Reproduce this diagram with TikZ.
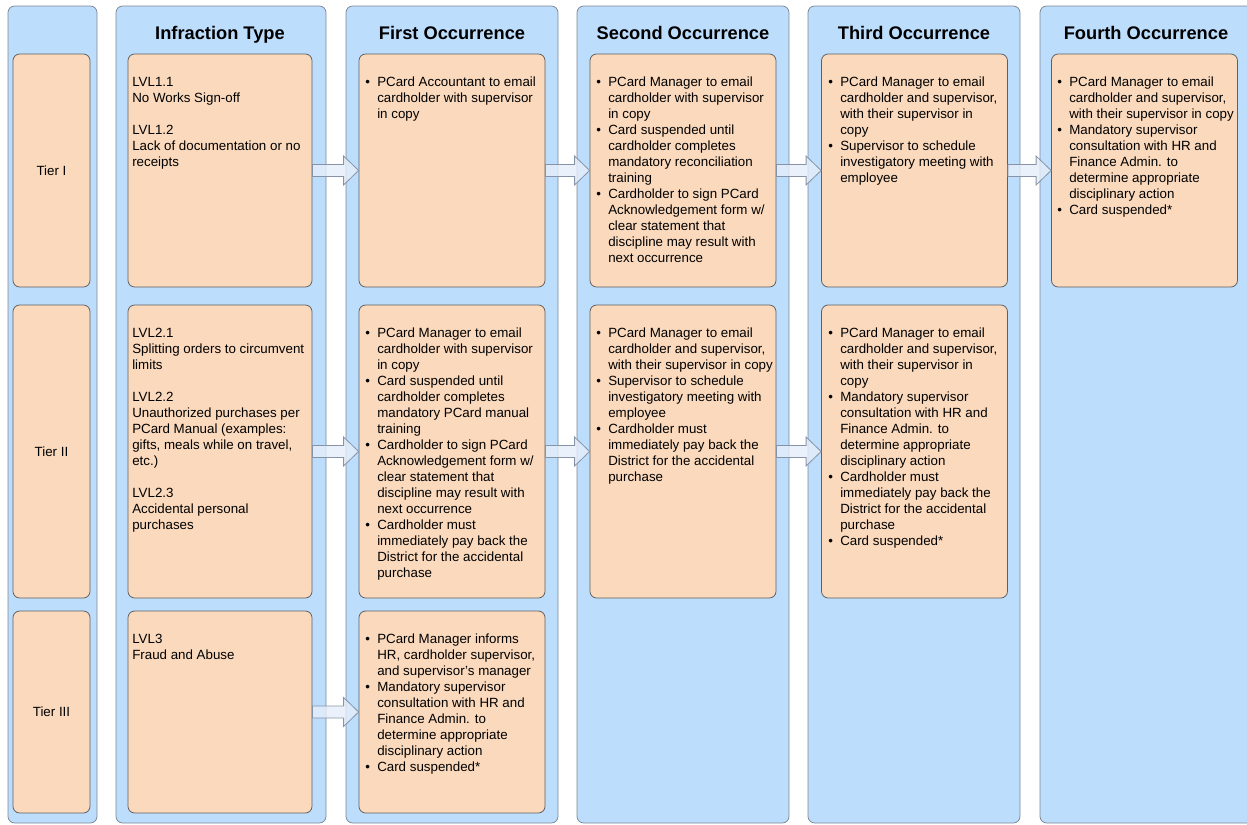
\documentclass[tikz,border=0pt]{standalone}
\usepackage{fontspec}
\setmainfont{Liberation Sans}
\usetikzlibrary{calc}

\definecolor{lanefill}{RGB}{189,221,253}
\definecolor{laneline}{RGB}{125,135,150}
\definecolor{peach}{RGB}{250,217,189}
\definecolor{peachline}{RGB}{95,95,95}
\definecolor{arrowfill}{RGB}{230,238,250}
\definecolor{arrowline}{RGB}{135,148,168}

\newcommand{\bl}{\makebox[9pt][l]{\textbullet}}
\newcommand{\flowarrow}[2]{%
	\draw[flow] ($(#1.east)+(0,-6)$) -- ($(#2.west)+(-15,-6)$) -- ($(#2.west)+(-15,-14.5)$) -- (#2.west)
		-- ($(#2.west)+(-15,14.5)$) -- ($(#2.west)+(-15,6)$) -- ($(#1.east)+(0,6)$) -- cycle;}

\begin{document}
\begin{tikzpicture}[x=0.75pt, y=-0.75pt,
		lane/.style={draw=laneline, fill=lanefill, rounded corners=5pt, line width=0.6pt, minimum height=612.75pt},
		cell/.style={draw=peachline, fill=peach, rounded corners=5pt, line width=0.6pt, minimum width=139.5pt, font=\fontsize{10}{12}\selectfont},
		rowI/.style={minimum height=174.75pt},
		rowII/.style={minimum height=219.75pt},
		rowIII/.style={minimum height=151.5pt},
		head/.style={font=\bfseries\fontsize{13.7}{16}\selectfont, anchor=base},
		txt/.style={font=\fontsize{10}{12}\selectfont, anchor=north west, inner sep=0pt},
		flow/.style={draw=arrowline, fill=arrowfill, fill opacity=0.8, line width=0.6pt}]
			\useasboundingbox (0,0) rectangle (1247,825);

			\node[lane, minimum width=66.75pt] (lane0) at (52.5,414.5) {};
			\node[lane, minimum width=157.5pt] (lane1) at (221,414.5) {};
			\node[lane, minimum width=159pt] (lane2) at (452,414.5) {};
			\node[lane, minimum width=159pt] (lane3) at (683,414.5) {};
			\node[lane, minimum width=159pt] (lane4) at (914,414.5) {};
			\node[lane, minimum width=166.5pt] (lane5) at (1151,414.5) {};

			\node[head] (hd1) at (220,39) {Infraction Type};
			\node[head] (hd2) at (452,39) {First Occurrence};
			\node[head] (hd3) at (683,39) {Second Occurrence};
			\node[head] (hd4) at (914,39) {Third Occurrence};
			\node[head] (hd5) at (1146,39) {Fourth Occurrence};

			\node[cell, rowI, minimum width=57.75pt] (tier1) at (51.5,170.5) {Tier I};
			\node[cell, rowI, minimum width=138pt] (inf1) at (220,170.5) {};
			\node[cell, rowI] (first1) at (452,170.5) {};
			\node[cell, rowI] (second1) at (683,170.5) {};
			\node[cell, rowI] (third1) at (914.5,170.5) {};
			\node[cell, rowI] (fourth1) at (1144.5,170.5) {};

			\node[cell, rowII, minimum width=57.75pt] (tier2) at (51.5,451.5) {Tier II};
			\node[cell, rowII, minimum width=138pt] (inf2) at (220,451.5) {};
			\node[cell, rowII] (first2) at (452,451.5) {};
			\node[cell, rowII] (second2) at (683,451.5) {};
			\node[cell, rowII] (third2) at (914.5,451.5) {};

			\node[cell, rowIII, minimum width=57.75pt] (tier3) at (51.5,712) {Tier III};
			\node[cell, rowIII, minimum width=138pt] (inf3) at (220,712) {};
			\node[cell, rowIII] (first3) at (452,712) {};

			\node[txt] (tinf1) at (132,75) {\begin{tabular}{@{}l@{}}
				LVL1.1\\ No Works Sign-off\\ \\ LVL1.2\\ Lack of documentation or no\\ receipts
			\end{tabular}};
			\node[txt] (tfirst1) at (365,75) {\begin{tabular}{@{}l@{}l@{}}
				\bl & PCard Accountant to email\\ & cardholder with supervisor\\ & in copy
			\end{tabular}};
			\node[txt] (tsecond1) at (596,75) {\begin{tabular}{@{}l@{}l@{}}
				\bl & PCard Manager to email\\ & cardholder with supervisor\\ & in copy\\
				\bl & Card suspended until\\ & cardholder completes\\ & mandatory reconciliation\\ & training\\
				\bl & Cardholder to sign PCard\\ & Acknowledgement form w/\\ & clear statement that\\ & discipline may result with\\ & next occurrence
			\end{tabular}};
			\node[txt] (tthird1) at (828,75) {\begin{tabular}{@{}l@{}l@{}}
				\bl & PCard Manager to email\\ & cardholder and supervisor,\\ & with their supervisor in\\ & copy\\
				\bl & Supervisor to schedule\\ & investigatory meeting with\\ & employee
			\end{tabular}};
			\node[txt] (tfourth1) at (1057,75) {\begin{tabular}{@{}l@{}l@{}}
				\bl & PCard Manager to email\\ & cardholder and supervisor,\\ & with their supervisor in copy\\
				\bl & Mandatory supervisor\\ & consultation with HR and\\ & Finance Admin. to\\ & determine appropriate\\ & disciplinary action\\
				\bl & Card suspended*
			\end{tabular}};

			\node[txt] (tinf2) at (132,326) {\begin{tabular}{@{}l@{}}
				LVL2.1\\ Splitting orders to circumvent\\ limits\\ \\
				LVL2.2\\ Unauthorized purchases per\\ PCard Manual (examples:\\ gifts, meals while on travel,\\ etc.)\\ \\
				LVL2.3\\ Accidental personal\\ purchases
			\end{tabular}};
			\node[txt] (tfirst2) at (365,326) {\begin{tabular}{@{}l@{}l@{}}
				\bl & PCard Manager to email\\ & cardholder with supervisor\\ & in copy\\
				\bl & Card suspended until\\ & cardholder completes\\ & mandatory PCard manual\\ & training\\
				\bl & Cardholder to sign PCard\\ & Acknowledgement form w/\\ & clear statement that\\ & discipline may result with\\ & next occurrence\\
				\bl & Cardholder must\\ & immediately pay back the\\ & District for the accidental\\ & purchase
			\end{tabular}};
			\node[txt] (tsecond2) at (596,326) {\begin{tabular}{@{}l@{}l@{}}
				\bl & PCard Manager to email\\ & cardholder and supervisor,\\ & with their supervisor in copy\\
				\bl & Supervisor to schedule\\ & investigatory meeting with\\ & employee\\
				\bl & Cardholder must\\ & immediately pay back the\\ & District for the accidental\\ & purchase
			\end{tabular}};
			\node[txt] (tthird2) at (828,326) {\begin{tabular}{@{}l@{}l@{}}
				\bl & PCard Manager to email\\ & cardholder and supervisor,\\ & with their supervisor in\\ & copy\\
				\bl & Mandatory supervisor\\ & consultation with HR and\\ & Finance Admin. to\\ & determine appropriate\\ & disciplinary action\\
				\bl & Cardholder must\\ & immediately pay back the\\ & District for the accidental\\ & purchase\\
				\bl & Card suspended*
			\end{tabular}};

			\node[txt] (tinf3) at (132,632) {\begin{tabular}{@{}l@{}}
				LVL3\\ Fraud and Abuse
			\end{tabular}};
			\node[txt] (tfirst3) at (365,632) {\begin{tabular}{@{}l@{}l@{}}
				\bl & PCard Manager informs\\ & HR, cardholder supervisor,\\ & and supervisor’s manager\\
				\bl & Mandatory supervisor\\ & consultation with HR and\\ & Finance Admin. to\\ & determine appropriate\\ & disciplinary action\\
				\bl & Card suspended*
			\end{tabular}};

			\flowarrow{inf1}{first1}
			\flowarrow{first1}{second1}
			\flowarrow{second1}{third1}
			\flowarrow{third1}{fourth1}
			\flowarrow{inf2}{first2}
			\flowarrow{first2}{second2}
			\flowarrow{second2}{third2}
			\flowarrow{inf3}{first3}
		\end{tikzpicture}
\end{document}
